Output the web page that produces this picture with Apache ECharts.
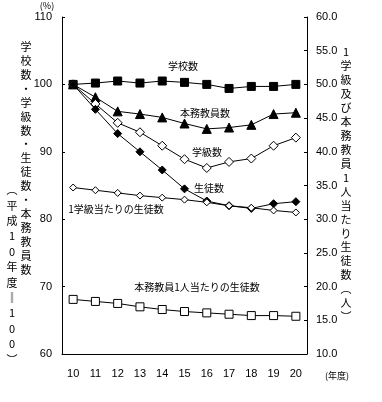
<!DOCTYPE html>
<html>
<head>
<meta charset="utf-8">
<script src="https://cdn.jsdelivr.net/npm/echarts@6/dist/echarts.min.js"></script>
<style>html,body{margin:0;padding:0;background:#fff}#c{width:382px;height:402px}</style>
</head>
<body>
<div id="c"></div>
<script>
const years = ['10','11','12','13','14','15','16','17','18','19','20'];
const schools = [100, 100.2, 100.5, 100.2, 100.5, 100.3, 100.0, 99.4, 99.7, 99.7, 100.0];
const teachers = [100, 98.1, 96.0, 95.6, 95.1, 94.2, 93.4, 93.6, 94.0, 95.6, 95.8];
const classes = [100, 97.1, 94.3, 92.9, 90.9, 88.9, 87.6, 88.5, 89.0, 90.9, 92.1];
const students = [100, 96.3, 92.7, 90.0, 87.3, 84.5, 82.7, 82.0, 81.6, 82.3, 82.6];
const perClass = [34.7, 34.3, 33.9, 33.5, 33.2, 32.9, 32.5, 32.0, 31.7, 31.3, 31.0];
const perTeacher = [18.1, 17.8, 17.5, 17.0, 16.6, 16.3, 16.1, 15.9, 15.7, 15.7, 15.6];
const leftTicks = [60, 110, 10];
const rightTicks = [10, 60, 5];

const FONT = '"Liberation Sans","Noto Sans CJK JP",sans-serif';
const JFONT = '"Noto Sans CJK JP",sans-serif';

function vtext(str, x, y0, step) {
  const els = [];
  let i = 0;
  for (const ch of str) {
    els.push({type:'text', x:x, y:y0 + i*step, style:{text:ch, font:'11px ' + JFONT, fill:'#000', align:'center', verticalAlign:'middle'}});
    i++;
  }
  return els;
}

function ser(name, data, yIdx, symbol, size, filled) {
  return {
    name, type:'line', data, yAxisIndex:yIdx, symbol, symbolSize:size,
    lineStyle:{color:'#000', width:1},
    itemStyle:{color: filled ? '#000' : '#fff', borderColor:'#000', borderWidth:1},
    emphasis:{disabled:true}, animation:false
  };
}

const chart = echarts.init(document.getElementById('c'));
const labels = [
  {t:'学校数', x:183, y:66},
  {t:'本務教員数', x:205, y:113},
  {t:'学級数', x:207, y:152},
  {t:'生徒数', x:209, y:188},
  {t:'1学級当たりの生徒数', x:116, y:209},
  {t:'本務教員1人当たりの生徒数', x:197, y:287}
].map(o => ({type:'text', x:o.x, y:o.y, style:{text:o.t, font:'10px ' + JFONT, fill:'#000', align:'center', verticalAlign:'middle'}}));

const graphics = labels
  .concat(vtext('学校数・学級数・生徒数・本務教員数', 26, 47, 13.9))
  .concat(vtext('︵平成10年度‖100︶', 12, 190, 15.4))
  .concat(vtext('1学級及び本務教員1人当たり生徒数︵人︶', 346, 52, 13.95))
  .concat([
    {type:'text', x:47, y:6, style:{text:'(%)', font:'9px ' + JFONT, fill:'#000', align:'center', verticalAlign:'middle'}},
    {type:'text', x:337, y:376, style:{text:'(年度)', font:'9px ' + JFONT, fill:'#000', align:'center', verticalAlign:'middle'}}
  ]);

chart.setOption({
  animation:false,
  backgroundColor:'#fff',
  grid:{left:62, right:75, top:17, bottom:48, containLabel:false},
  xAxis:{
    type:'category', data:years, boundaryGap:true,
    axisLine:{lineStyle:{color:'#000', width:1}},
    axisTick:{inside:true, length:3, lineStyle:{color:'#000'}},
    axisLabel:{color:'#000', fontSize:11, fontFamily:FONT, margin:14},
    splitLine:{show:false}
  },
  yAxis:[
    {type:'value', min:leftTicks[0], max:leftTicks[1], interval:leftTicks[2], position:'left',
     axisLine:{show:true, lineStyle:{color:'#000'}},
     axisTick:{show:true, inside:true, length:3, lineStyle:{color:'#000'}},
     axisLabel:{color:'#000', fontSize:11, fontFamily:FONT, margin:10},
     splitLine:{show:false}},
    {type:'value', min:rightTicks[0], max:rightTicks[1], interval:rightTicks[2], position:'right',
     axisLine:{show:true, lineStyle:{color:'#000'}},
     axisTick:{show:true, inside:true, length:3, lineStyle:{color:'#000'}},
     axisLabel:{color:'#000', fontSize:11, fontFamily:FONT, margin:9, formatter:v => v.toFixed(1)},
     splitLine:{show:false}}
  ],
  series:[
    ser('学校数', schools, 0, 'rect', 8, true),
    ser('本務教員数', teachers, 0, 'triangle', 9, true),
    ser('学級数', classes, 0, 'diamond', 9, false),
    ser('生徒数', students, 0, 'diamond', 8, true),
    ser('1学級当たりの生徒数', perClass, 1, 'diamond', 7, false),
    ser('本務教員1人当たりの生徒数', perTeacher, 1, 'rect', 8, false)
  ],
  graphic:graphics
});
</script>
</body>
</html>
